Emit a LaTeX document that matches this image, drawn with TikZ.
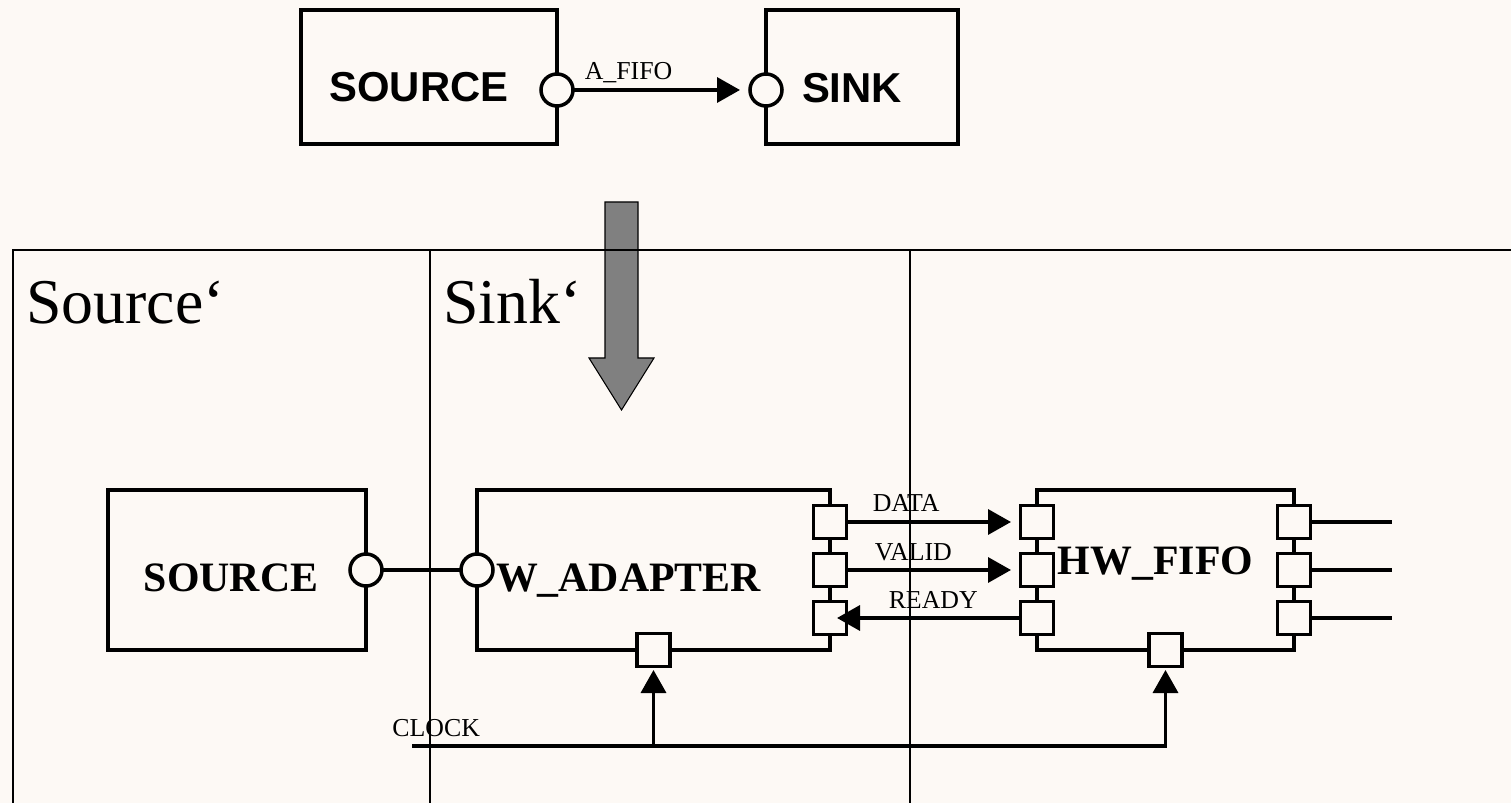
\documentclass[tikz,border=0pt]{standalone}
\usepackage{fontspec}
\setmainfont{Liberation Serif}
\setsansfont{Liberation Sans}
\usetikzlibrary{arrows.meta, positioning}
\definecolor{paper}{RGB}{253,249,245}
\definecolor{arrowgray}{RGB}{128,128,128}

\begin{document}
\begin{tikzpicture}[
        >={Triangle[length=0.46cm, width=0.5cm]},
        box/.style={draw, line width=2pt, fill=paper, inner sep=0pt, outer sep=0pt},
        topbox/.style={box, minimum height=2.68cm},
        blk/.style={box, minimum height=3.2cm},
        port/.style={draw, line width=2pt, fill=paper, minimum size=0.66cm, inner sep=0pt, outer sep=0pt},
        pin/.style={circle, draw, line width=2pt, fill=paper, minimum size=0.64cm, inner sep=0pt, outer sep=0pt},
        wire/.style={line width=2pt},
        sig/.style={->, line width=2pt, shorten >=0.2cm},
        lbl/.style={font=\fontsize{14.7}{17}\selectfont, inner sep=0pt},
        sansname/.style={font=\sffamily\bfseries\fontsize{23.8}{28}\selectfont, inner sep=0pt, anchor=base},
        serifname/.style={font=\bfseries\fontsize{23.8}{28}\selectfont, inner sep=0pt, anchor=base},
        part/.style={font=\fontsize{36.3}{42}\selectfont, inner sep=0pt, anchor=base west},
        frame/.style={line width=0.8pt},
        bigarrow/.style={draw, line width=0.6pt, fill=arrowgray}
    ]
        \useasboundingbox (0,0) rectangle (30.22,-16.06);
        \fill[paper] (0,0) rectangle (30.22,-16.06);

        \draw[bigarrow] (12.1,-4.04) -- (12.76,-4.04) -- (12.76,-7.16) -- (13.08,-7.16)
            -- (12.43,-8.2) -- (11.78,-7.16) -- (12.1,-7.16) -- cycle;

        \draw[frame] (0.26,-16.06) |- (30.22,-5.0);
        \draw[frame] (8.6,-5.0) -- (8.6,-16.06);
        \draw[frame] (18.2,-5.0) -- (18.2,-16.06);

        \node[part] (srcPart) at (0.52,-6.48) {Source‘};
        \node[part] (snkPart) at (8.86,-6.48) {Sink‘};

        \node[topbox, minimum width=5.12cm] (src) at (8.58,-1.54) {};
        \node[topbox, minimum width=3.84cm, right=4.18cm of src] (snk) {};
        \node[pin] (srcpin) at ([yshift=-0.26cm]src.east) {};
        \node[pin] (snkpin) at ([yshift=-0.26cm]snk.west) {};
        \node[sansname] (srcTxt) at ([shift={(-0.2,-0.5)}]src.center) {SOURCE};
        \node[sansname] (snkTxt) at ([shift={(-0.2,-0.52)}]snk.center) {SINK};

        \draw[sig] (srcpin) -- (snkpin)
            node[lbl, pos=0, anchor=base west, xshift=0.2cm, yshift=0.2cm] {A\_FIFO};

        \node[blk, minimum width=5.16cm] (source) at (4.74,-11.4) {};
        \node[blk, minimum width=7.06cm, right=2.22cm of source] (adapter) {};
        \node[blk, minimum width=5.14cm, right=4.14cm of adapter] (fifo) {};

        \node[pin] (sourcepin) at (source.east) {};
        \node[pin] (adpin) at (adapter.west) {};
        \draw[wire] (sourcepin) -- (adpin);

        \node[serifname] (sourceTxt) at ([shift={(-0.12,-0.44)}]source.center) {SOURCE};
        \node[serifname] (adTxt) at ([shift={(-0.5,-0.44)}]adapter.center) {W\_ADAPTER};
        \node[serifname] (fifoTxt) at ([shift={(-0.2,-0.1)}]fifo.center) {HW\_FIFO};

        \foreach \p/\dy in {d/0.96, v/0, r/-0.96} {
            \node[port] (ad\p) at ([yshift=\dy cm]adapter.east) {};
            \node[port] (fl\p) at ([yshift=\dy cm]fifo.west) {};
            \node[port] (fr\p) at ([yshift=\dy cm]fifo.east) {};
            \coordinate (out\p) at ([xshift=1.62cm]fr\p.east);
            \draw[wire] (fr\p) -- (out\p);
        }
        \node[port] (adbot) at (adapter.south) {};
        \node[port] (fbot) at (fifo.south) {};

        \draw[sig, shorten >=0.19cm] (add) -- (fld)
            node[lbl, pos=0, anchor=base west, xshift=0.49cm, yshift=0.2cm] {DATA};
        \draw[sig, shorten >=0.19cm] (adv) -- (flv)
            node[lbl, pos=0, anchor=base west, xshift=0.53cm, yshift=0.18cm] {VALID};
        \draw[sig, shorten >=-0.19cm] (flr) -- (adr)
            node[lbl, pos=1, anchor=base west, xshift=0.81cm, yshift=0.2cm] {READY};

        \coordinate (clk) at (8.24,-14.92);
        \node[lbl, anchor=base west] (clkTxt) at ([shift={(-0.4,0.2)}]clk) {CLOCK};
        \draw[sig, shorten >=0.07cm] (clk) -| (fbot);
        \draw[sig, shorten >=0.07cm] (adbot |- clk) -- (adbot);
    \end{tikzpicture}
\end{document}
